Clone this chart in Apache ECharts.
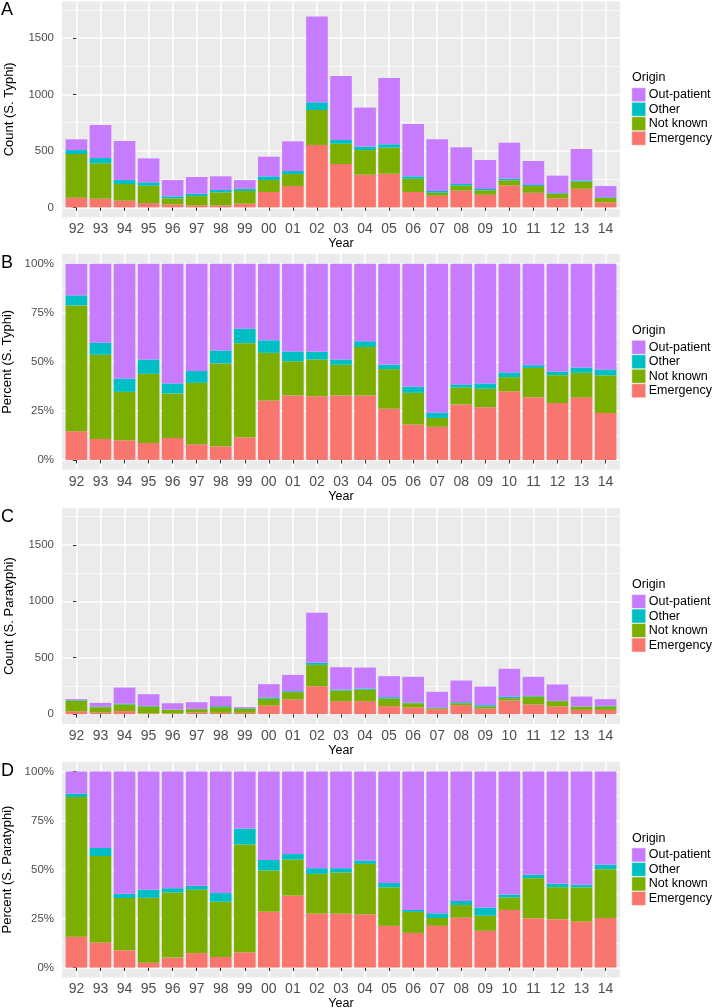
<!DOCTYPE html>
<html><head><meta charset="utf-8">
<script src="https://cdn.jsdelivr.net/npm/echarts@6/dist/echarts.min.js"></script>
<style>html,body{margin:0;padding:0;background:#fff}#c{width:715px;height:1008px}</style>
</head><body><div id="c"></div>
<script>
const years = ['92','93','94','95','96','97','98','99','00','01','02','03','04','05','06','07','08','09','10','11','12','13','14'];
const originNames = ['Emergency','Not known','Other','Out-patient'];
const legendOrder = ['Out-patient','Other','Not known','Emergency'];
const originColors = ['#F8766D','#7CAE00','#00BFC4','#C77CFF'];

// Panel A: counts, S. Typhi
const typhiEmergency  = [86,77,59,38,27,18,18,33,136,189,553,384,290,298,136,103,148,112,195,130,80,165,44];
const typhiNotKnown   = [387,313,148,154,53,82,115,112,106,106,310,180,218,231,118,27,44,39,44,59,41,63,39];
const typhiOther      = [35,47,35,30,18,21,21,20,33,27,68,33,30,30,21,15,15,12,15,9,6,11,6];
const typhiOutPatient = [95,293,346,212,144,148,121,77,174,263,759,567,346,588,464,458,325,257,319,213,154,278,100];

// Panel B: percent, S. Typhi
const typhiPctEmergency  = [14.6,10.7,10.0,8.6,11.2,8.0,6.9,11.5,30.3,32.9,32.5,32.9,32.9,26.1,18.1,16.9,28.3,26.9,34.9,32.0,29.0,31.9,23.9];
const typhiPctNotKnown   = [64.2,42.9,24.7,35.3,22.7,31.3,42.3,48.0,24.3,17.4,18.7,15.6,24.7,20.2,16.1,4.5,8.6,9.4,7.3,14.9,14.2,12.5,19.2];
const typhiPctOther      = [5.1,6.2,6.8,7.3,5.1,6.0,6.6,7.4,6.4,5.0,3.9,2.7,2.9,2.3,3.1,2.7,1.6,2.7,2.4,1.4,1.9,2.7,3.0];
const typhiPctOutPatient = [16.1,40.2,58.5,48.8,61.0,54.7,44.2,33.1,39.0,44.7,44.9,48.8,39.5,51.4,62.7,75.9,61.5,61.0,55.4,51.7,54.9,52.9,53.9];

// Panel C: counts, S. Paratyphi
const paraEmergency  = [24,15,27,6,6,15,12,12,77,130,248,115,115,71,59,44,80,50,121,86,68,38,38];
const paraNotKnown   = [94,47,59,62,32,29,50,35,59,65,189,95,101,68,38,9,17,18,21,70,47,27,30];
const paraOther      = [6,6,8,6,3,3,9,6,12,9,18,8,11,12,6,6,9,12,12,6,3,3,6];
const paraOutPatient = [9,32,142,103,56,59,88,9,118,144,443,198,186,186,228,139,192,165,248,169,145,88,59];

// Panel D: percent, S. Paratyphi
const paraPctEmergency  = [15.7,12.8,8.8,2.5,5.1,7.4,5.4,7.8,28.5,36.7,27.5,27.5,27.2,21.3,17.7,21.3,25.5,18.8,29.4,25.2,24.7,23.5,25.3];
const paraPctNotKnown   = [71.3,44.1,26.7,33.1,33.2,32.3,28.2,55.0,21.0,18.4,20.3,21.0,25.7,19.6,10.7,4.0,6.4,7.7,6.4,20.4,16.3,17.4,24.9];
const paraPctOther      = [1.7,4.1,2.2,4.1,2.2,2.0,4.4,8.1,5.4,2.8,2.9,2.2,1.7,2.3,1.0,2.4,2.1,4.1,1.5,1.7,1.7,1.3,2.2];
const paraPctOutPatient = [11.3,39.0,62.3,60.3,59.5,58.3,62.0,29.1,45.1,42.1,49.3,49.3,45.4,56.8,70.6,72.3,66.0,69.4,62.7,52.7,57.3,57.8,47.6];

const countMajor = [0,500,1000,1500];
const countMinor = [250,750,1250,1750];
const pctMajor = [0,25,50,75,100];
const pctMinor = [12.5,37.5,62.5,87.5];

const panels = [
  {letter:'A', yName:'Count (S. Typhi)', kind:'count', data:[typhiEmergency,typhiNotKnown,typhiOther,typhiOutPatient]},
  {letter:'B', yName:'Percent (S. Typhi)', kind:'pct', data:[typhiPctEmergency,typhiPctNotKnown,typhiPctOther,typhiPctOutPatient]},
  {letter:'C', yName:'Count (S. Paratyphi)', kind:'count', data:[paraEmergency,paraNotKnown,paraOther,paraOutPatient]},
  {letter:'D', yName:'Percent (S. Paratyphi)', kind:'pct', data:[paraPctEmergency,paraPctNotKnown,paraPctOther,paraPctOutPatient]}
];

const FONT = "'Liberation Sans', Arial, Helvetica, sans-serif";
const panelTops = [1.5, 254, 508.3, 761.7];
const panelH = 215.7, panelLeft = 62, panelW = 558;
const idx = years.map((y,i)=>i);

const grids=[], xAxes=[], yAxes=[], series=[], titles=[], legends=[];
panels.forEach((p, k) => {
  const top = panelTops[k];
  const isCount = p.kind === 'count';
  const yMin = isCount ? -87 : -5, yMax = isCount ? 1824 : 105;
  grids.push({left:panelLeft, top:top, width:panelW, height:panelH, show:true,
    backgroundColor:'#EBEBEB', borderWidth:0, containLabel:false, outerBoundsMode:'none'});
  xAxes.push({gridIndex:k, type:'value', min:-0.6, max:22.6,
    axisLine:{show:false},
    axisTick:{show:true, length:3.5, lineStyle:{color:'#333333', width:1}, customValues:idx},
    axisLabel:{customValues:idx, formatter:v=>years[Math.round(v)], fontSize:14, color:'#4D4D4D', margin:5, fontFamily:FONT},
    splitLine:{show:true, lineStyle:{color:'#FFFFFF', width:1.5}},
    name:'Year', nameLocation:'middle', nameGap:17, nameTextStyle:{fontSize:12.5, color:'#000', fontFamily:FONT}
  });
  const major = isCount ? countMajor : pctMajor;
  const minor = isCount ? countMinor : pctMinor;
  yAxes.push({gridIndex:k, type:'value', min:yMin, max:yMax,
    axisLine:{show:false},
    axisTick:{show:true, length:3.5, lineStyle:{color:'#333333', width:1}, customValues:major},
    axisLabel:{customValues:major, formatter: v => isCount ? String(v) : v + '%', fontSize:11.5, color:'#4D4D4D', margin:8, fontFamily:FONT},
    splitLine:{show:true, lineStyle:{color:'#FFFFFF', width:1.5}},
    name:p.yName, nameLocation:'middle', nameGap:46, nameTextStyle:{fontSize:13, color:'#000', fontFamily:FONT}
  });
  yAxes.push({gridIndex:k, type:'value', min:yMin, max:yMax,
    axisLine:{show:false},
    axisTick:{show:false, customValues:minor},
    axisLabel:{show:false, customValues:minor},
    splitLine:{show:true, lineStyle:{color:'#FFFFFF', width:0.7}}
  });
  originNames.forEach((name, s) => {
    series.push({type:'bar', name:name, stack:'panel'+k, xAxisIndex:k, yAxisIndex:2*k,
      data:p.data[s].map((v,i)=>[v,i]), encode:{x:1, y:0},
      barWidth:'90%', itemStyle:{color:originColors[s]}, emphasis:{disabled:true}});
  });
  titles.push({text:p.letter, left:1, top:top, padding:0, textStyle:{fontSize:18, fontWeight:'normal', color:'#000', fontFamily:FONT}});
  titles.push({text:'Origin', left:632, top:top+70, padding:0, textStyle:{fontSize:12.5, fontWeight:'normal', color:'#000', fontFamily:FONT}});
  legends.push({data:legendOrder, orient:'vertical', left:631.5, top:top+86, padding:0,
    itemWidth:14, itemHeight:14, itemGap:0, icon:'rect', selectedMode:false,
    itemStyle:{borderColor:'#FFFFFF', borderWidth:0.5},
    textStyle:{fontSize:12.5, color:'#000', fontFamily:FONT, lineHeight:14, padding:[0,0,0,-2]}});
});

const chart = echarts.init(document.getElementById('c'), null, {renderer:'canvas'});
chart.setOption({
  animation:false,
  title:titles, legend:legends, grid:grids, xAxis:xAxes, yAxis:yAxes, series:series
});
</script></body></html>
